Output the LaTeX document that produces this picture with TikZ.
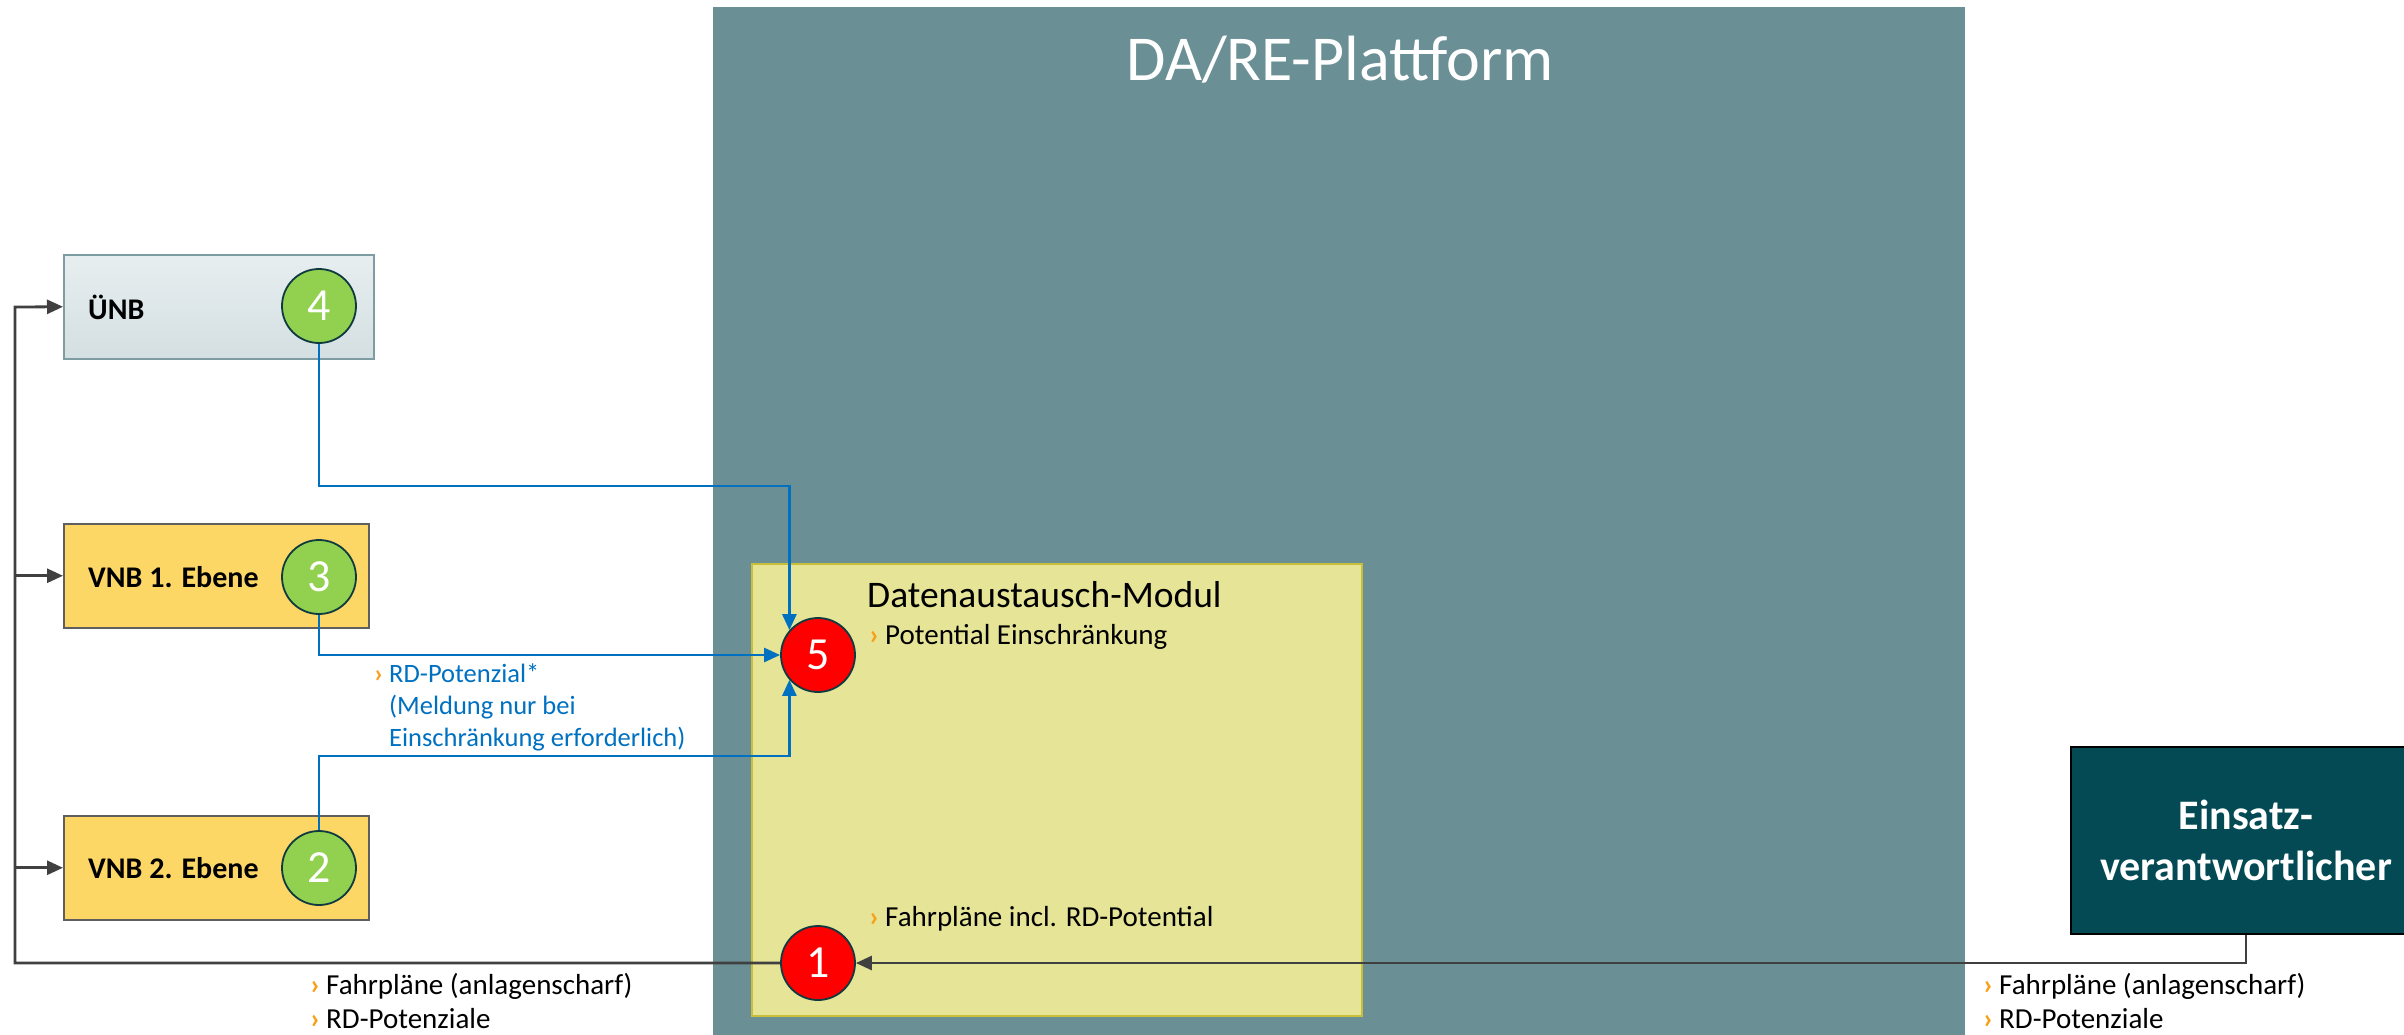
\documentclass[tikz,border=0pt]{standalone}
\usepackage{fontspec}
\setmainfont{Carlito}
\usetikzlibrary{arrows.meta,calc}
\definecolor{platc}{HTML}{6A8F95}
\definecolor{unbtop}{HTML}{E7EEF0}
\definecolor{unbbot}{HTML}{D4DFE2}
\definecolor{unbdraw}{HTML}{7D9DA3}
\definecolor{vnbc}{HTML}{FDD766}
\definecolor{vnbdraw}{HTML}{5F5F5F}
\definecolor{greenc}{HTML}{92D050}
\definecolor{circdraw}{HTML}{0E3A40}
\definecolor{redc}{HTML}{FF0000}
\definecolor{damc}{HTML}{E6E497}
\definecolor{damdraw}{HTML}{C8BE3A}
\definecolor{einsc}{HTML}{034A54}
\definecolor{bluec}{HTML}{0070C0}
\definecolor{grayl}{HTML}{404040}
\definecolor{bulc}{HTML}{F7A11A}
\newcommand{\bul}{\llap{\textcolor{bulc}{\bfseries ›}\hspace{6pt}}}
\tikzset{
  actor/.style={draw=vnbdraw, line width=1.5pt, fill=vnbc, minimum width=305pt, minimum height=104pt, inner sep=0pt},
  numcirc/.style={circle, draw=circdraw, line width=1.8pt, minimum size=74pt, inner sep=0pt, text=white, font=\fontsize{46}{48}\selectfont},
  greencirc/.style={numcirc, fill=greenc},
  redcirc/.style={numcirc, fill=redc},
  actorlabel/.style={anchor=west, inner sep=0pt, font=\bfseries\fontsize{30}{32}\selectfont},
  blueline/.style={draw=bluec, line width=2.6pt},
  bluearrow/.style={blueline, -{Triangle[length=16pt,width=14pt]}},
  grayline/.style={draw=grayl, line width=2.8pt},
  grayarrow/.style={grayline, -{Triangle[length=16pt,width=14pt]}},
  txt/.style={anchor=west, inner sep=0pt, font=\fontsize{29}{33}\selectfont},
  bluetxt/.style={anchor=west, inner sep=0pt, text=bluec, font=\fontsize{26.5}{33}\selectfont},
}
\begin{document}
\begin{tikzpicture}[x=1pt,y=-1pt]
\useasboundingbox (0,0) rectangle (2404,1034);
% platform
\node[fill=platc, minimum width=1252pt, minimum height=1040pt, inner sep=0pt, anchor=north west] (plat) at (713,7) {};
\node[text=white, font=\fontsize{64}{66}\selectfont] (title) at (1340,60) {DA/RE-Plattform};
% data exchange module
\node[fill=damc, draw=damdraw, line width=2pt, minimum width=610pt, minimum height=452pt, inner sep=0pt, anchor=north west] (dam) at (751,563) {};
\node[anchor=west, inner sep=0pt, font=\fontsize{37.5}{40}\selectfont] (damtitle) at (867,595) {Datenaustausch-Modul};
\node[txt] (pe) at (885,637) {\bul Potential Einschränkung};
\node[txt] (fp) at (885,919) {\bul Fahrpläne incl. RD-Potential};
% actors
\node[draw=unbdraw, line width=1.5pt, top color=unbtop, bottom color=unbbot, minimum width=310pt, minimum height=104pt, inner sep=0pt, anchor=north west] (unb) at (63,254) {};
\node[actorlabel] (unbl) at (88,307) {ÜNB};
\node[actor, anchor=north west] (vnb1) at (63,523) {};
\node[actorlabel] (vnb1l) at (88,577) {VNB 1. Ebene};
\node[actor, anchor=north west] (vnb2) at (63,815) {};
\node[actorlabel] (vnb2l) at (88,868) {VNB 2. Ebene};
\node[greencirc] (c4) at (319,306) {4};
\node[greencirc] (c3) at (319,577) {3};
\node[greencirc] (c2) at (319,868) {2};
\node[redcirc] (c5) at (818,655) {5};
\node[redcirc] (c1) at (818,963) {1};
% Einsatzverantwortlicher
\node[fill=einsc, draw=black, line width=2pt, minimum width=350pt, minimum height=187pt, inner sep=0pt, anchor=north west, text=white, align=center, font=\bfseries\fontsize{42}{51}\selectfont] (eins) at (2070,746) {Einsatz-\\verantwortlicher};
% blue connectors
\coordinate (b4) at (319,486);
\coordinate (b2) at (319,756);
\draw[bluearrow] (c4.south) -- (b4) -| (c5.139);
\draw[bluearrow] (c3.south) |- (c5.west);
\draw[bluearrow] (c2.north) -- (b2) -| (c5.-139);
\node[bluetxt] (rd1) at (389,673) {\bul RD-Potenzial*};
\node[bluetxt] (rd2) at (389,707) {(Meldung nur bei};
\node[bluetxt] (rd3) at (389,739) {Einschränkung erforderlich)};
% gray connectors
\coordinate (lb) at (15,963);
\coordinate (lt) at (15,307);
\draw[grayarrow] (eins.south) |- (c1.east);
\draw[grayarrow] (c1.west) -- (lb) -- (lt) -- (unb.west);
\draw[grayarrow] (lb |- vnb1.west) -- (vnb1.west);
\draw[grayarrow] (lb |- vnb2.west) -- (vnb2.west);
% bottom texts
\node[txt] (l1) at (326,986) {\bul Fahrpläne (anlagenscharf)};
\node[txt] (l2) at (326,1019) {\bul RD-Potenziale};
\node[txt] (r1) at (1999,986) {\bul Fahrpläne (anlagenscharf)};
\node[txt] (r2) at (1999,1019) {\bul RD-Potenziale};
\node[anchor=base, inner sep=0pt, text=grayl, font=\fontsize{20}{22}\selectfont] (pg) at (2394,1048) {7};
\end{tikzpicture}
\end{document}
